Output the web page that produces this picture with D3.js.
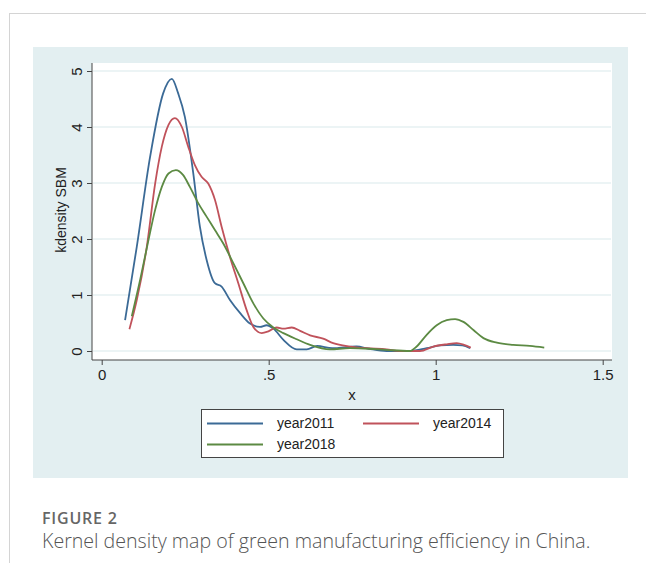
<!DOCTYPE html>
<html>
<head>
<meta charset="utf-8">
<script src="https://cdn.jsdelivr.net/npm/d3@7"></script>
<style>
  body { margin: 0; background: #fff; }
  svg text { font-family: "Liberation Sans", Arial, sans-serif; }
</style>
</head>
<body>
<svg id="chart" width="646" height="563"></svg>
<script>
// kdensity curves
var x2011 = [0.07, 0.105, 0.145, 0.184, 0.21, 0.229, 0.249, 0.274, 0.294, 0.314, 0.339, 0.359, 0.384, 0.414, 0.444, 0.474, 0.494, 0.514, 0.544, 0.584, 0.614, 0.645, 0.69, 0.763, 0.8, 0.853, 0.923, 0.973, 1.013, 1.052, 1.08, 1.103];
var y2011 = [0.55, 1.86, 3.47, 4.60, 4.86, 4.60, 4.18, 3.18, 2.22, 1.63, 1.21, 1.15, 0.91, 0.68, 0.49, 0.43, 0.46, 0.40, 0.20, 0.03, 0.03, 0.09, 0.05, 0.08, 0.04, 0.0, 0.0, 0.05, 0.10, 0.11, 0.10, 0.05];

var x2014 = [0.083, 0.105, 0.135, 0.16, 0.18, 0.2, 0.219, 0.24, 0.259, 0.279, 0.299, 0.319, 0.339, 0.359, 0.384, 0.409, 0.434, 0.454, 0.479, 0.499, 0.524, 0.544, 0.569, 0.594, 0.624, 0.663, 0.693, 0.743, 0.793, 0.853, 0.893, 0.953, 0.993, 1.033, 1.063, 1.085, 1.105];
var y2014 = [0.39, 0.91, 1.86, 2.99, 3.65, 4.04, 4.16, 4.0, 3.65, 3.32, 3.11, 2.99, 2.70, 2.22, 1.68, 1.21, 0.73, 0.43, 0.32, 0.35, 0.42, 0.40, 0.42, 0.36, 0.28, 0.22, 0.14, 0.08, 0.05, 0.03, 0.0, 0.0, 0.08, 0.12, 0.14, 0.11, 0.06];

var x2018 = [0.09, 0.115, 0.14, 0.16, 0.18, 0.2, 0.222, 0.244, 0.264, 0.289, 0.314, 0.339, 0.364, 0.394, 0.424, 0.454, 0.484, 0.514, 0.544, 0.584, 0.624, 0.683, 0.743, 0.8, 0.853, 0.923, 0.943, 0.973, 1.003, 1.033, 1.058, 1.083, 1.113, 1.143, 1.183, 1.232, 1.282, 1.325];
var y2018 = [0.62, 1.27, 1.98, 2.52, 2.93, 3.17, 3.23, 3.14, 2.93, 2.64, 2.40, 2.16, 1.92, 1.57, 1.21, 0.85, 0.58, 0.42, 0.32, 0.21, 0.11, 0.03, 0.05, 0.04, 0.02, 0.0, 0.08, 0.29, 0.46, 0.55, 0.57, 0.52, 0.375, 0.23, 0.15, 0.11, 0.09, 0.06];

var seriesNames = ["year2011", "year2014", "year2018"];
var seriesColors = ["#3b6a96", "#c0525b", "#5c8a43"];
var xTicks = [0, 0.5, 1, 1.5];
var xTickLabels = ["0", ".5", "1", "1.5"];
var yTicks = [0, 1, 2, 3, 4, 5];

var svg = d3.select("#chart");

// page frame
svg.append("line").attr("x1", 9).attr("x2", 646).attr("y1", 13.5).attr("y2", 13.5)
    .attr("stroke", "#d4d4d4");
svg.append("line").attr("x1", 9.5).attr("x2", 9.5).attr("y1", 13).attr("y2", 563)
    .attr("stroke", "#d4d4d4");

// graph region
svg.append("rect").attr("x", 33).attr("y", 47).attr("width", 595).attr("height", 431)
    .attr("fill", "#e3eff1");
svg.append("rect").attr("x", 92).attr("y", 63).attr("width", 520).attr("height", 297)
    .attr("fill", "#fff");

var x = d3.scaleLinear().domain([0, 1.5]).range([101.7, 602.7]);
var y = d3.scaleLinear().domain([0, 5]).range([351, 71]);

// grid
svg.append("g").selectAll("line").data(yTicks).enter().append("line")
    .attr("x1", 93).attr("x2", 611)
    .attr("y1", function (d) { return y(d); })
    .attr("y2", function (d) { return y(d); })
    .attr("stroke", "#e6f0f2").attr("stroke-width", 1.5);

// axes
var yAxis = svg.append("g").attr("transform", "translate(92,0)")
    .call(d3.axisLeft(y).tickValues(yTicks).tickSize(5).tickPadding(4).tickFormat(d3.format("d")));
yAxis.select(".domain").attr("d", "M0,63V360");
yAxis.selectAll("text")
    .attr("transform", "translate(-15,0) rotate(-90)")
    .attr("x", 0).attr("y", 0).attr("dy", "0.35em")
    .attr("text-anchor", "middle");

var xAxis = svg.append("g").attr("transform", "translate(0,360)")
    .call(d3.axisBottom(x).tickValues(xTicks).tickSize(5).tickPadding(4)
        .tickFormat(function (d, i) { return xTickLabels[i]; }));
xAxis.select(".domain").attr("d", "M92,0H612");

svg.selectAll(".tick line, .domain").attr("stroke", "#444");
svg.selectAll(".tick text").attr("font-size", 15).attr("fill", "#222")
    .attr("font-family", "Liberation Sans, Arial, sans-serif");

svg.append("text").attr("x", 352).attr("y", 395).attr("dy", "0.35em")
    .attr("text-anchor", "middle").attr("font-size", 15).attr("fill", "#222").text("x");
svg.append("text").attr("transform", "translate(61,210) rotate(-90)").attr("dy", "0.35em")
    .attr("text-anchor", "middle").attr("font-size", 14).attr("fill", "#222").text("kdensity SBM");

// curves
var line = d3.line()
    .x(function (d) { return x(d[0]); })
    .y(function (d) { return y(d[1]); })
    .curve(d3.curveMonotoneX);

var series = [d3.zip(x2011, y2011), d3.zip(x2014, y2014), d3.zip(x2018, y2018)];
svg.append("g").selectAll("path").data(series).enter().append("path")
    .attr("d", line)
    .attr("fill", "none")
    .attr("stroke", function (d, i) { return seriesColors[i]; })
    .attr("stroke-width", 1.8);

// legend
var lg = svg.append("g");
lg.append("rect").attr("x", 201.5).attr("y", 409.5).attr("width", 302).attr("height", 48)
    .attr("fill", "#fff").attr("stroke", "#444");
var legendPos = [[207, 423.5], [363, 423.5], [207, 444.5]];
seriesNames.forEach(function (name, i) {
    var p = legendPos[i];
    lg.append("line").attr("x1", p[0]).attr("x2", p[0] + 56).attr("y1", p[1]).attr("y2", p[1])
        .attr("stroke", seriesColors[i]).attr("stroke-width", 1.8);
    lg.append("text").attr("x", p[0] + 70).attr("y", p[1]).attr("dy", "0.35em")
        .attr("font-size", 14).attr("fill", "#222").text(name);
});

// caption
svg.append("text").attr("x", 42).attr("y", 524)
    .style("font-family", "'Open Sans', sans-serif").attr("font-size", 16).attr("font-weight", 600)
    .attr("letter-spacing", 0.8).attr("fill", "#666").text("FIGURE 2");
svg.append("text").attr("x", 42).attr("y", 548)
    .style("font-family", "'Open Sans', sans-serif").attr("font-size", 19.6).attr("font-weight", 300)
    .attr("fill", "#555").text("Kernel density map of green manufacturing efficiency in China.");
</script>
</body>
</html>
